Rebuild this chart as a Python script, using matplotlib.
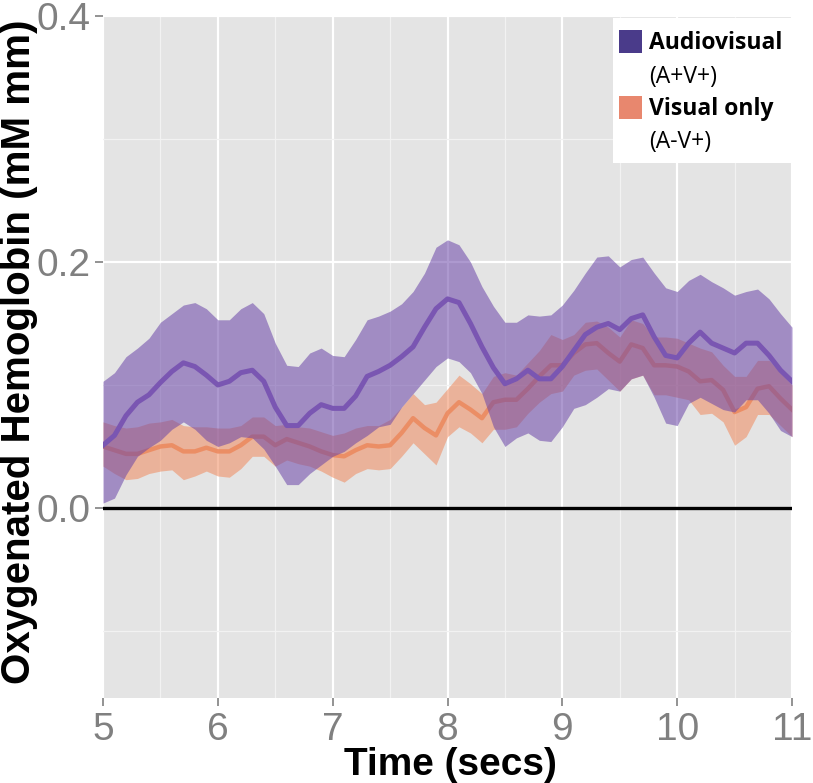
import numpy as np
import matplotlib
matplotlib.use("Agg")
import matplotlib.pyplot as plt
from matplotlib.patches import Rectangle

# ---------------- data ----------------
time_s = [5.0, 5.1, 5.2, 5.3, 5.4, 5.5, 5.6, 5.7, 5.8, 5.9,
          6.0, 6.1, 6.2, 6.3, 6.4, 6.5, 6.6, 6.7, 6.8, 6.9,
          7.0, 7.1, 7.2, 7.3, 7.4, 7.5, 7.6, 7.7, 7.8, 7.9,
          8.0, 8.1, 8.2, 8.3, 8.4, 8.5, 8.6, 8.7, 8.8, 8.9,
          9.0, 9.1, 9.2, 9.3, 9.4, 9.5, 9.6, 9.7, 9.8, 9.9,
          10.0, 10.1, 10.2, 10.3, 10.4, 10.5, 10.6, 10.7, 10.8, 10.9, 11.0]

av_mean = [0.051, 0.059, 0.075, 0.086, 0.092, 0.102, 0.111, 0.118, 0.115, 0.108,
           0.100, 0.103, 0.110, 0.112, 0.103, 0.082, 0.067, 0.067, 0.077, 0.084,
           0.081, 0.081, 0.091, 0.107, 0.111, 0.116, 0.123, 0.131, 0.147, 0.162,
           0.170, 0.167, 0.150, 0.131, 0.114, 0.101, 0.105, 0.112, 0.105, 0.105,
           0.115, 0.128, 0.141, 0.147, 0.150, 0.145, 0.154, 0.157, 0.139, 0.124,
           0.122, 0.134, 0.143, 0.134, 0.130, 0.126, 0.134, 0.134, 0.124, 0.112, 0.103]
av_upper = [0.103, 0.110, 0.123, 0.130, 0.138, 0.151, 0.158, 0.165, 0.167, 0.162,
            0.153, 0.153, 0.162, 0.167, 0.158, 0.134, 0.116, 0.115, 0.126, 0.130,
            0.124, 0.123, 0.137, 0.153, 0.156, 0.160, 0.166, 0.176, 0.191, 0.212,
            0.218, 0.214, 0.200, 0.180, 0.164, 0.151, 0.151, 0.157, 0.156, 0.157,
            0.165, 0.177, 0.191, 0.204, 0.205, 0.196, 0.202, 0.204, 0.191, 0.179,
            0.176, 0.185, 0.190, 0.184, 0.179, 0.173, 0.176, 0.178, 0.170, 0.158, 0.147]
av_lower = [0.004, 0.008, 0.027, 0.042, 0.049, 0.055, 0.064, 0.070, 0.064, 0.055,
            0.050, 0.053, 0.058, 0.057, 0.048, 0.034, 0.019, 0.019, 0.028, 0.035,
            0.042, 0.046, 0.053, 0.059, 0.066, 0.068, 0.082, 0.093, 0.104, 0.115,
            0.122, 0.119, 0.110, 0.093, 0.066, 0.050, 0.057, 0.061, 0.055, 0.054,
            0.066, 0.081, 0.084, 0.090, 0.097, 0.095, 0.105, 0.108, 0.090, 0.069,
            0.067, 0.085, 0.090, 0.085, 0.080, 0.078, 0.088, 0.088, 0.077, 0.063, 0.058]

v_mean = [0.050, 0.047, 0.044, 0.044, 0.047, 0.050, 0.051, 0.046, 0.046, 0.049,
          0.046, 0.046, 0.051, 0.058, 0.058, 0.051, 0.056, 0.053, 0.050, 0.046,
          0.043, 0.042, 0.047, 0.051, 0.050, 0.051, 0.061, 0.073, 0.065, 0.059,
          0.077, 0.086, 0.080, 0.073, 0.086, 0.088, 0.088, 0.097, 0.107, 0.116,
          0.116, 0.126, 0.133, 0.134, 0.126, 0.119, 0.133, 0.130, 0.116, 0.116,
          0.115, 0.111, 0.103, 0.104, 0.096, 0.078, 0.082, 0.097, 0.099, 0.089, 0.080]
v_upper = [0.070, 0.067, 0.065, 0.066, 0.069, 0.070, 0.072, 0.067, 0.066, 0.066,
           0.065, 0.065, 0.067, 0.074, 0.074, 0.067, 0.068, 0.066, 0.065, 0.062,
           0.059, 0.061, 0.065, 0.067, 0.067, 0.072, 0.082, 0.093, 0.084, 0.086,
           0.097, 0.108, 0.101, 0.093, 0.107, 0.110, 0.108, 0.118, 0.128, 0.141,
           0.137, 0.141, 0.151, 0.152, 0.147, 0.139, 0.153, 0.150, 0.139, 0.139,
           0.138, 0.134, 0.130, 0.127, 0.116, 0.107, 0.107, 0.120, 0.120, 0.110, 0.100]
v_lower = [0.034, 0.028, 0.023, 0.024, 0.028, 0.030, 0.031, 0.023, 0.026, 0.030,
           0.026, 0.025, 0.032, 0.042, 0.042, 0.034, 0.039, 0.036, 0.034, 0.030,
           0.025, 0.021, 0.028, 0.032, 0.031, 0.032, 0.042, 0.053, 0.044, 0.035,
           0.058, 0.066, 0.061, 0.053, 0.064, 0.064, 0.066, 0.077, 0.086, 0.093,
           0.095, 0.108, 0.112, 0.113, 0.104, 0.095, 0.105, 0.108, 0.092, 0.092,
           0.090, 0.088, 0.076, 0.077, 0.070, 0.051, 0.058, 0.076, 0.076, 0.067, 0.058]

x_ticks = [5, 6, 7, 8, 9, 10, 11]
x_tick_labels = ["5", "6", "7", "8", "9", "10", "11"]
y_ticks = [0.0, 0.2, 0.4]
y_tick_labels = ["0.0", "0.2", "0.4"]
legend_titles = ["Audiovisual", "Visual only"]
legend_subtitles = ["(A+V+)", "(A-V+)"]

# ---------------- figure ----------------
W, H = 813, 783
fig = plt.figure(figsize=(W / 100, H / 100), dpi=100)
fig.patch.set_facecolor("white")

def fx(px):
    return px / W

def fy(py):
    return 1 - py / H

ax = fig.add_axes([fx(103), fy(698), fx(792) - fx(103), fy(16) - fy(698)])
ax.set_facecolor("#e4e4e4")
ax.set_xlim(5, 11)
ax.set_ylim(-0.1545, 0.400)

# grid
ax.set_xticks(x_ticks)
ax.set_xticks([5.5, 6.5, 7.5, 8.5, 9.5, 10.5], minor=True)
ax.set_yticks(y_ticks)
ax.set_yticks([-0.1, 0.1, 0.3], minor=True)
ax.grid(which="major", color="white", linewidth=1.6)
ax.grid(which="minor", color="#f2f2f2", linewidth=0.9)
ax.set_axisbelow(True)
for s in ax.spines.values():
    s.set_visible(False)

ax.set_xticklabels(x_tick_labels)
ax.set_yticklabels(y_tick_labels)
ax.tick_params(which="major", direction="out", length=6, width=1.3, color="#8a8a8a",
               labelsize=28, labelcolor="#808080", pad=3)
ax.tick_params(axis="x", which="major", pad=4)
ax.tick_params(which="minor", length=0)
for lab in ax.get_xticklabels() + ax.get_yticklabels():
    lab.set_family("Liberation Sans")

purple_fill = "#6a45a8"
purple_line = "#7a56b2"
orange_fill = "#f08a5d"
orange_line = "#ec8a60"

t = np.array(time_s)
ax.fill_between(t, v_lower, v_upper, color=orange_fill, alpha=0.55, linewidth=0, zorder=2)
ax.plot(t, v_mean, color=orange_line, linewidth=3.2, alpha=0.9, zorder=3)
ax.fill_between(t, av_lower, av_upper, color=purple_fill, alpha=0.55, linewidth=0, zorder=4)
ax.plot(t, av_mean, color=purple_line, linewidth=3.6, zorder=5)
ax.axhline(0, color="black", linewidth=2.4, zorder=6)

# axis titles
fig.text(fx(450), fy(775), "Time (secs)", ha="center", va="baseline",
         fontsize=28, fontweight="bold", family="Liberation Sans", color="black")
fig.text(fx(19), fy(352), "Oxygenated Hemoglobin (mM mm)", ha="center", va="center",
         rotation=90, fontsize=29, fontweight="bold", family="Liberation Sans", color="black")

# legend (manual, white box)
fig.add_artist(Rectangle((fx(613), fy(163)), fx(813) - fx(613), fy(18) - fy(163),
                         transform=fig.transFigure, facecolor="white", edgecolor="none", zorder=10))
sw_colors = ["#4a3b8a", "#e8876e"]
sw_tops = [30, 96]
title_base = [49, 115]
sub_base = [83, 148]
for i in range(2):
    fig.add_artist(Rectangle((fx(619), fy(sw_tops[i] + 23)), fx(23), fy(0) - fy(23),
                             transform=fig.transFigure, facecolor=sw_colors[i],
                             edgecolor="none", zorder=11))
    fig.text(fx(649), fy(title_base[i]), legend_titles[i], ha="left", va="baseline",
             fontsize=16.5, fontweight="bold", family="Open Sans", color="black", zorder=12)
    fig.text(fx(649), fy(sub_base[i]), legend_subtitles[i], ha="left", va="baseline",
             fontsize=16.5, family="Open Sans", color="black", zorder=12)

fig.savefig("out.png", dpi=100)
